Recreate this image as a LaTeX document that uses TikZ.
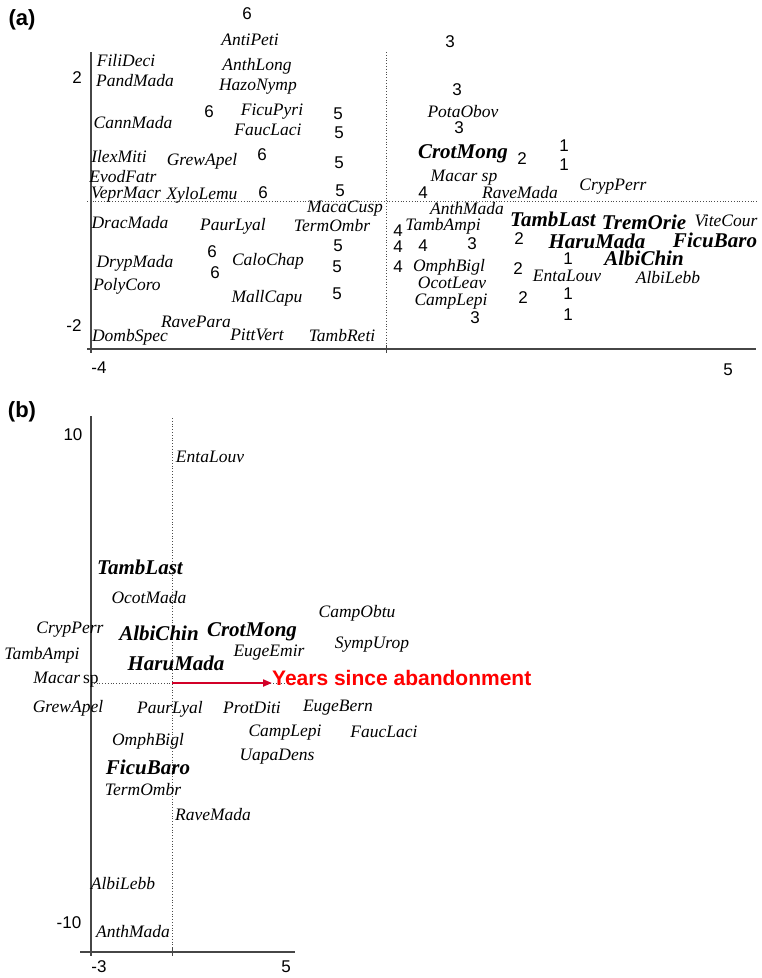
\documentclass[tikz,border=0pt]{standalone}
\usepackage{fontspec}
\setmainfont{Liberation Serif}
\setsansfont{Liberation Sans}
\usetikzlibrary{arrows.meta}

\definecolor{axisgray}{RGB}{70,70,70}
\definecolor{arrred}{RGB}{210,0,40}

\begin{document}
\begin{tikzpicture}[x=1pt,y=-1pt,
  spc/.style={font=\fontsize{17.5}{20}\selectfont\itshape,inner sep=0pt},
  spcb/.style={font=\fontsize{21}{24}\selectfont\bfseries\itshape,inner sep=0pt},
  num/.style={font=\sffamily\fontsize{17}{20}\selectfont,inner sep=0pt},
  tag/.style={font=\sffamily\bfseries\fontsize{22}{24}\selectfont,inner sep=0pt},
  axis/.style={draw=axisgray,line width=1.4pt},
  zero/.style={draw=black!70,dotted,line width=0.8pt},
  arr/.style={-{Triangle[length=9pt,width=7pt]},draw=arrred,line width=2pt}
]
\useasboundingbox (0,0) rectangle (761,978);

% ---------------- panel (a)
\node[tag] (tagA) at (22,20) {(a)};

\coordinate (aTop) at (91,52);
\coordinate (aBot) at (91,353);
\coordinate (aLeft) at (87,349);
\coordinate (aRight) at (756,349);
\coordinate (aMidTop) at (386,52);
\coordinate (aMidBot) at (386,349);
\coordinate (aHzL) at (87,201);
\coordinate (aHzR) at (757,201);
\draw[zero] (aMidTop) -- (aMidBot);
\draw[zero] (aHzL) -- (aHzR);
\draw[axis] (aTop) -- (aBot);
\draw[axis] (aLeft) -- (aRight);
\draw[axis,line width=0.8pt] (386,345) -- (386,353);

\node[num] (aY2) at (77,78) {2};
\node[num] (aYm2) at (74,326) {-2};
\node[num] (aXm4) at (99,368) {-4};
\node[num] (aX5) at (728,370) {5};

\node[spc] (aAntiPeti) at (250,40) {AntiPeti};
\node[spc] (aFiliDeci) at (126,61) {FiliDeci};
\node[spc] (aAnthLong) at (257,66) {AnthLong};
\node[spc] (aPandMada) at (135,81) {PandMada};
\node[spc] (aHazoNymp) at (258,87) {HazoNymp};
\node[spc] (aFicuPyri) at (272,112) {FicuPyri};
\node[spc] (aCannMada) at (133,123) {CannMada};
\node[spc] (aFaucLaci) at (268,130) {FaucLaci};
\node[spc] (aPotaObov) at (463,112) {PotaObov};
\node[spc] (aIlexMiti) at (119,157) {IlexMiti};
\node[spc] (aGrewApel) at (202,161) {GrewApel};
\node[spc] (aMacarsp) at (464,178) {Macar sp};
\node[spc] (aEvodFatr) at (123,177) {EvodFatr};
\node[spc] (aVeprMacr) at (126,195) {VeprMacr};
\node[spc] (aXyloLemu) at (202,195) {XyloLemu};
\node[spc] (aRaveMada) at (520,193) {RaveMada};
\node[spc] (aCrypPerr) at (613,187) {CrypPerr};
\node[spc] (aMacaCusp) at (345,209) {MacaCusp};
\node[spc] (aAnthMada) at (467,209) {AnthMada};
\node[spc] (aDracMada) at (130,223) {DracMada};
\node[spc] (aPaurLyal) at (233,226) {PaurLyal};
\node[spc] (aTermOmbr) at (332,226) {TermOmbr};
\node[spc] (aTambAmpi) at (443,226) {TambAmpi};
\node[spc] (aViteCour) at (726,221) {ViteCour};
\node[spc] (aDrypMada) at (135,263) {DrypMada};
\node[spc] (aCaloChap) at (268,261) {CaloChap};
\node[spc] (aOmphBigl) at (449,267) {OmphBigl};
\node[spc] (aEntaLouv) at (567,276) {EntaLouv};
\node[spc] (aAlbiLebb) at (668,278) {AlbiLebb};
\node[spc] (aPolyCoro) at (127,286) {PolyCoro};
\node[spc] (aOcotLeav) at (452,283) {OcotLeav};
\node[spc] (aMallCapu) at (267,298) {MallCapu};
\node[spc] (aCampLepi) at (451,302) {CampLepi};
\node[spc] (aRavePara) at (196,322) {RavePara};
\node[spc] (aDombSpec) at (130,337) {DombSpec};
\node[spc] (aPittVert) at (257,335) {PittVert};
\node[spc] (aTambReti) at (342,336) {TambReti};

\node[spcb] (aCrotMong) at (463,154) {CrotMong};
\node[spcb] (aTambLast) at (553,219) {TambLast};
\node[spcb] (aTremOrie) at (644,222) {TremOrie};
\node[spcb] (aHaruMada) at (597,241) {HaruMada};
\node[spcb] (aFicuBaro) at (715,240) {FicuBaro};
\node[spcb] (aAlbiChin) at (644,258) {AlbiChin};

% group numbers
\node[num] (g01) at (247,14) {6};
\node[num] (g02) at (450,42) {3};
\node[num] (g03) at (457,90) {3};
\node[num] (g04) at (209,112) {6};
\node[num] (g05) at (338,114) {5};
\node[num] (g06) at (459,128) {3};
\node[num] (g07) at (339,133) {5};
\node[num] (g08) at (564,146) {1};
\node[num] (g09) at (262,155) {6};
\node[num] (g10) at (522,159) {2};
\node[num] (g11) at (339,163) {5};
\node[num] (g12) at (564,165) {1};
\node[num] (g13) at (263,193) {6};
\node[num] (g14) at (340,191) {5};
\node[num] (g15) at (423,193) {4};
\node[num] (g16) at (398,231) {4};
\node[num] (g17) at (519,239) {2};
\node[num] (g18) at (472,244) {3};
\node[num] (g19) at (398,247) {4};
\node[num] (g20) at (423,246) {4};
\node[num] (g21) at (338,246) {5};
\node[num] (g22) at (212,252) {6};
\node[num] (g23) at (568,259) {1};
\node[num] (g24) at (337,267) {5};
\node[num] (g25) at (398,267) {4};
\node[num] (g26) at (518,269) {2};
\node[num] (g27) at (215,273) {6};
\node[num] (g28) at (568,294) {1};
\node[num] (g29) at (337,294) {5};
\node[num] (g30) at (523,298) {2};
\node[num] (g31) at (568,315) {1};
\node[num] (g32) at (475,318) {3};

% ---------------- panel (b)
\node[tag] (tagB) at (22,412) {(b)};

\coordinate (bTop) at (91,416);
\coordinate (bBot) at (91,956);
\coordinate (bLeft) at (80,952);
\coordinate (bRight) at (295,952);
\coordinate (bMidTop) at (172,418);
\coordinate (bMidBot) at (172,952);
\coordinate (bHzL) at (91,683);
\coordinate (bHzR) at (295,683);
\coordinate (bOrig) at (172,683);
\draw[zero] (bMidTop) -- (bMidBot);
\draw[zero] (bHzL) -- (bHzR);
\draw[axis] (bTop) -- (bBot);
\draw[axis] (bLeft) -- (bRight);
\draw[axis,line width=0.8pt] (172,948) -- (172,956);

\node[num] (bY10) at (73,435) {10};
\node[num] (bYm10) at (69,923) {-10};
\node[num] (bXm3) at (99,967) {-3};
\node[num] (bX5) at (286,967) {5};

\node[spc] (bEntaLouv) at (210,457) {EntaLouv};
\node[spc] (bOcotMada) at (149,598) {OcotMada};
\node[spc] (bCampObtu) at (357,613) {CampObtu};
\node[spc] (bCrypPerr) at (70,630) {CrypPerr};
\node[spc] (bSympUrop) at (372,645) {SympUrop};
\node[spc] (bTambAmpi) at (42,655) {TambAmpi};
\node[spc] (bEugeEmir) at (269,653) {EugeEmir};
\node[spc] (bMacarsp) at (66,680) {\textit{Macar}\,\upshape sp};
\node[spc] (bGrewApel) at (68,708) {GrewApel};
\node[spc] (bPaurLyal) at (170,709) {PaurLyal};
\node[spc] (bProtDiti) at (252,708) {ProtDiti};
\node[spc] (bEugeBern) at (338,708) {EugeBern};
\node[spc] (bOmphBigl) at (148,741) {OmphBigl};
\node[spc] (bCampLepi) at (285,733) {CampLepi};
\node[spc] (bFaucLaci) at (384,732) {FaucLaci};
\node[spc] (bUapaDens) at (277,757) {UapaDens};
\node[spc] (bTermOmbr) at (143,790) {TermOmbr};
\node[spc] (bRaveMada) at (213,815) {RaveMada};
\node[spc] (bAlbiLebb) at (123,884) {AlbiLebb};
\node[spc] (bAnthMada) at (133,932) {AnthMada};

\node[spcb] (bTambLast) at (140,567) {TambLast};
\node[spcb] (bAlbiChin) at (159,633) {AlbiChin};
\node[spcb] (bCrotMong) at (252,632) {CrotMong};
\node[spcb] (bHaruMada) at (176,663) {HaruMada};
\node[spcb] (bFicuBaro) at (148,767) {FicuBaro};

\node[font=\sffamily\bfseries\fontsize{21}{24}\selectfont,text=red,inner sep=0pt,anchor=west] (years) at (272,678) {Years since abandonment};
\draw[arr] (bOrig) -- (years.west |- bOrig);
\end{tikzpicture}
\end{document}
